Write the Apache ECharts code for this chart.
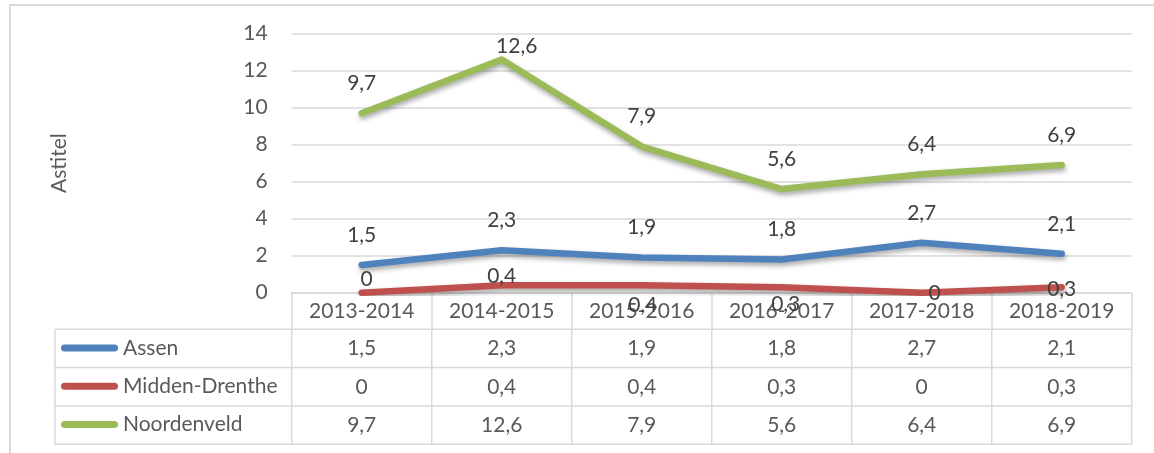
<!DOCTYPE html>
<html>
<head>
<meta charset="utf-8">
<script src="https://cdn.jsdelivr.net/npm/echarts@6/dist/echarts.min.js"></script>
<style>
html, body { margin: 0; padding: 0; background: #fff; }
#main { width: 1154px; height: 453px; }
</style>
</head>
<body>
<div id="main"></div>
<script>
// data
const categories = ['2013-2014', '2014-2015', '2015-2016', '2016-2017', '2017-2018', '2018-2019'];
const assen = [1.5, 2.3, 1.9, 1.8, 2.7, 2.1];
const middenDrenthe = [0, 0.4, 0.4, 0.3, 0, 0.3];
const noordenveld = [9.7, 12.6, 7.9, 5.6, 6.4, 6.9];
const seriesNames = ['Assen', 'Midden-Drenthe', 'Noordenveld'];
const yMin = 0, yMax = 14, yStep = 2;

const colors = ['#4f81bd', '#c0504d', '#9bbb59'];
const textGray = '#595959';
const lineGray = '#d9d9d9';
const font = 'Lato';

// labels that were dragged around in the original
const labelShift = [
    [],
    [[5, 17], [0, 20.5], [1, 49.5], [4, 47.5], [13, 30.5], [0, 32.5]],
    [null, [15, 17]]
];

const fmt = v => String(v).replace('.', ',');
const rows = [assen, middenDrenthe, noordenveld];

const gridLeft = 291.7, gridRight = 22.3, gridTop = 33.7, gridBottom = 160.3;

const chart = echarts.init(document.getElementById('main'));

let seriesData = rows.map((vals, s) => ({
    name: seriesNames[s],
    type: 'line',
    smooth: false,
    symbol: 'circle',
    symbolSize: 1,
    showSymbol: true,
    z: 2 + s,
    itemStyle: { color: colors[s] },
    lineStyle: {
        width: 6.5,
        color: colors[s],
        cap: 'round',
        join: 'round',
        shadowColor: 'rgba(0,0,0,0.35)',
        shadowBlur: 5,
        shadowOffsetX: 1,
        shadowOffsetY: 3
    },
    label: {
        show: true,
        position: 'top',
        distance: 19,
        fontFamily: font,
        fontSize: 21,
        color: '#404040',
        formatter: p => fmt(p.value)
    },
    emphasis: { disabled: true },
    data: vals.map((v, i) => {
        let sh = labelShift[s][i]
        return sh ? { value: v, label: { offset: sh } } : v
    })
}))

let option = {
    animation: false,
    color: colors,
    grid: { left: gridLeft, right: gridRight, top: gridTop, bottom: gridBottom },
    legend: {
        data: seriesNames,
        orient: 'vertical',
        left: 61,
        top: 337.5,
        padding: 0,
        itemGap: 17.3,
        itemWidth: 57,
        itemHeight: 7,
        icon: 'path://M3.5,0 H53.5 A3.5,3.5 0 0 1 53.5,7 H3.5 A3.5,3.5 0 0 1 3.5,0 Z',
        selectedMode: false,
        textStyle: { fontFamily: font, fontSize: 21, color: textGray }
    },
    xAxis: {
        type: 'category',
        data: categories,
        boundaryGap: true,
        axisLine: { show: true, lineStyle: { color: lineGray, width: 1.5 } },
        axisTick: { show: true, length: 37, interval: 0, lineStyle: { color: lineGray, width: 1.5 } },
        axisLabel: { fontFamily: font, fontSize: 21, color: textGray, margin: 8, interval: 0 }
    },
    yAxis: {
        type: 'value',
        min: yMin,
        max: yMax,
        interval: yStep,
        name: 'Astitel',
        nameLocation: 'middle',
        nameRotate: 90,
        nameGap: 222,
        nameTextStyle: { fontFamily: font, fontSize: 21, color: textGray },
        axisLine: { show: false },
        axisTick: { show: false },
        axisLabel: { fontFamily: font, fontSize: 21, color: textGray, margin: 24 },
        splitLine: { lineStyle: { color: lineGray, width: 1.5 } }
    },
    series: seriesData
}

chart.setOption(option)

// data table below the axis
const rowTop = 329.3, rowH = 38.3, tableLeft = 55;
const colX = categories.map((c, i) => chart.convertToPixel({ xAxisIndex: 0 }, i));
const colW = colX.length > 1 ? colX[1] - colX[0] : 140;
const tableRight = colX[colX.length - 1] + colW / 2;
let g = [];

g.push({
    type: 'rect',
    shape: { x: 10, y: 5, width: 1160, height: 470 },
    style: { fill: 'none', stroke: lineGray, lineWidth: 2 },
    silent: true
})
for (let r = 0; r <= rows.length; r++) {
    let y = rowTop + r * rowH;
    g.push({ type: 'line', shape: { x1: tableLeft, y1: y, x2: tableRight, y2: y }, style: { stroke: lineGray, lineWidth: 1.5 }, silent: true })
}
let vx = [tableLeft].concat(colX.map(x => x - colW / 2), [tableRight]);
vx.forEach(x => {
    g.push({ type: 'line', shape: { x1: x, y1: rowTop, x2: x, y2: rowTop + rows.length * rowH }, style: { stroke: lineGray, lineWidth: 1.5 }, silent: true })
})
rows.forEach((vals, r) => {
    vals.forEach((v, i) => {
        g.push({
            type: 'text',
            x: colX[i],
            y: rowTop + r * rowH + rowH / 2,
            style: { text: fmt(v), fontFamily: font, fontSize: 21, fill: textGray, align: 'center', verticalAlign: 'middle' },
            silent: true
        })
    })
})

chart.setOption({ graphic: g })
</script>
</body>
</html>
